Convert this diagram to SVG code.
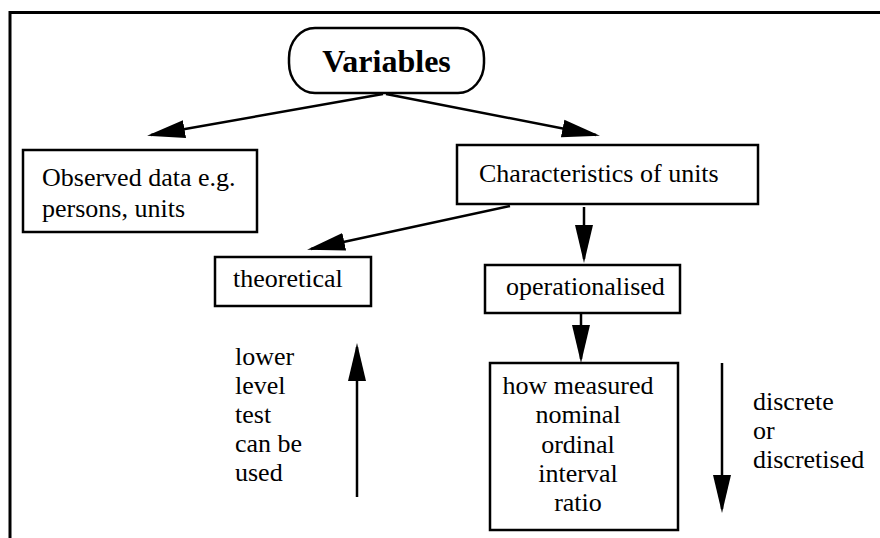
<svg xmlns="http://www.w3.org/2000/svg" width="880" height="538" viewBox="0 0 880 538" font-family="'Liberation Serif', Tinos, 'Times New Roman', Times, serif">
  <style>
    .box { fill: #fff; stroke: #000; stroke-width: 2.5; }
    .frame { fill: none; stroke: #000; stroke-width: 3; }
    .conn { fill: none; stroke: #000; stroke-width: 2.5; marker-end: url(#head); }
    text { font-family: "Liberation Serif", Tinos, "Times New Roman", Times, serif; font-size: 26px; fill: #000; }
    .title { font-weight: bold; font-size: 32px; }
    .mid { text-anchor: middle; }
  </style>
  <defs>
    <marker id="head" markerUnits="userSpaceOnUse" markerWidth="39" markerHeight="20" viewBox="0 0 39 20" refX="34" refY="10" orient="auto">
      <path d="M0,1 L38,10 L0,19 Z" fill="#000"/>
    </marker>
  </defs>

  <rect width="880" height="538" fill="#fff"/>
  <!-- open frame: left and top edges only -->
  <path class="frame" d="M10,538 L10,12.5 L880,12.5"/>

  <g id="connectors">
    <line class="conn" x1="383" y1="94" x2="151" y2="135"/>
    <line class="conn" x1="386" y1="94" x2="596" y2="135"/>
    <line class="conn" x1="510" y1="206" x2="311" y2="249"/>
    <line class="conn" x1="584" y1="207" x2="584" y2="259"/>
    <line class="conn" x1="581" y1="313" x2="581" y2="359"/>
    <line class="conn" x1="357" y1="497" x2="357" y2="347"/>
    <line class="conn" x1="722" y1="363" x2="722" y2="509"/>
  </g>

  <g id="variables">
    <rect class="box" x="289" y="28" width="195" height="65" rx="26" ry="30"/>
    <text class="title mid" x="386.5" y="72">Variables</text>
  </g>

  <g id="observed">
    <rect class="box" x="23" y="150" width="234" height="82"/>
    <text x="42" y="186">Observed data e.g.</text>
    <text x="42" y="217">persons, units</text>
  </g>

  <g id="characteristics">
    <rect class="box" x="457" y="145" width="301" height="59"/>
    <text x="479" y="182">Characteristics of units</text>
  </g>

  <g id="theoretical">
    <rect class="box" x="215" y="257" width="156" height="49"/>
    <text x="233" y="287">theoretical</text>
  </g>

  <g id="operationalised">
    <rect class="box" x="485" y="265" width="195" height="48"/>
    <text x="506" y="295">operationalised</text>
  </g>

  <g id="measured">
    <rect class="box" x="490" y="363" width="188" height="167"/>
    <text class="mid" x="578" y="394">how measured</text>
    <text class="mid" x="578" y="423">nominal</text>
    <text class="mid" x="578" y="453">ordinal</text>
    <text class="mid" x="578" y="482">interval</text>
    <text class="mid" x="578" y="511">ratio</text>
  </g>

  <g id="lower-level">
    <text x="235" y="365">lower</text>
    <text x="235" y="394">level</text>
    <text x="235" y="423">test</text>
    <text x="235" y="452">can be</text>
    <text x="235" y="481">used</text>
  </g>

  <g id="discrete">
    <text x="753" y="410">discrete</text>
    <text x="753" y="439">or</text>
    <text x="753" y="468">discretised</text>
  </g>
</svg>
